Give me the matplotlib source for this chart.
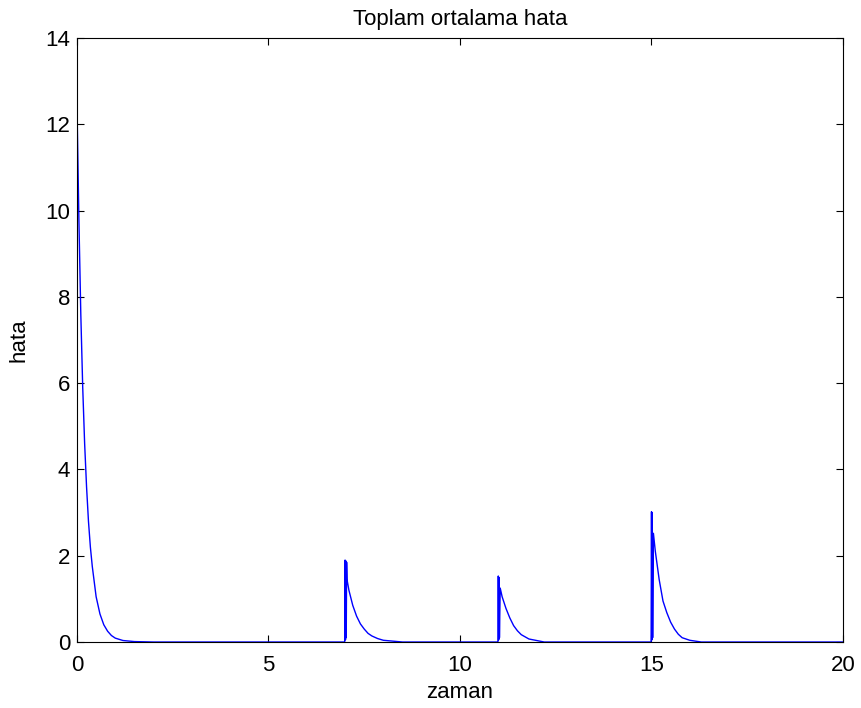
import matplotlib
matplotlib.use('Agg')
import matplotlib.pyplot as plt

plt.rcParams['font.family'] = ['Liberation Sans', 'DejaVu Sans']

# values (time, error)
zaman = [0.0, 0.05, 0.1, 0.15, 0.2, 0.25, 0.3, 0.35, 0.4, 0.5, 0.6, 0.7, 0.8, 0.9, 1.0, 1.2, 1.5, 2.0,
         6.99, 7.0, 7.01, 7.02, 7.03, 7.04, 7.05, 7.1, 7.2, 7.3, 7.4, 7.5, 7.6, 7.7, 7.85, 8.0, 8.5,
         10.99, 11.0, 11.01, 11.02, 11.03, 11.05, 11.1, 11.2, 11.3, 11.4, 11.5, 11.6, 11.8, 12.2,
         14.99, 15.0, 15.01, 15.02, 15.03, 15.05, 15.1, 15.2, 15.3, 15.4, 15.5, 15.6, 15.7, 15.8, 16.0, 16.3, 20.0]
hata = [12.45, 9.8, 7.6, 5.9, 4.6, 3.6, 2.8, 2.2, 1.75, 1.05, 0.65, 0.4, 0.25, 0.15, 0.09, 0.035, 0.01, 0.0,
        0.0, 1.9, 0.05, 1.88, 0.1, 1.85, 1.45, 1.2, 0.85, 0.6, 0.42, 0.3, 0.2, 0.14, 0.08, 0.04, 0.0,
        0.0, 1.53, 0.05, 1.5, 0.1, 1.25, 1.05, 0.78, 0.56, 0.38, 0.26, 0.17, 0.07, 0.0,
        0.0, 3.02, 0.05, 3.0, 0.1, 2.52, 2.1, 1.45, 0.95, 0.68, 0.46, 0.3, 0.18, 0.1, 0.04, 0.0, 0.0]

xticks = [0, 5, 10, 15, 20]
yticks = [0, 2, 4, 6, 8, 10, 12, 14]

fig = plt.figure(figsize=(8.61, 7.08), dpi=100)
ax = fig.add_axes([0.0894, 0.0932, 0.8897, 0.8531])
ax.plot(zaman, hata, color='#0000ff', linewidth=1.0)

ax.set_xlim(0, 20)
ax.set_ylim(0, 14)
ax.set_xticks(xticks)
ax.set_yticks(yticks)
ax.tick_params(direction='in', top=True, right=True, labelsize=16, length=5, width=0.8)
ax.tick_params(axis='x', pad=9)
ax.tick_params(axis='y', pad=5)
for s in ax.spines.values():
    s.set_linewidth(0.8)

ax.set_title('Toplam ortalama hata', fontsize=16, pad=9.5)
ax.set_xlabel('zaman', fontsize=16, labelpad=5)
ax.set_ylabel('hata', fontsize=16, labelpad=11)

fig.savefig('out.png', dpi=100)
